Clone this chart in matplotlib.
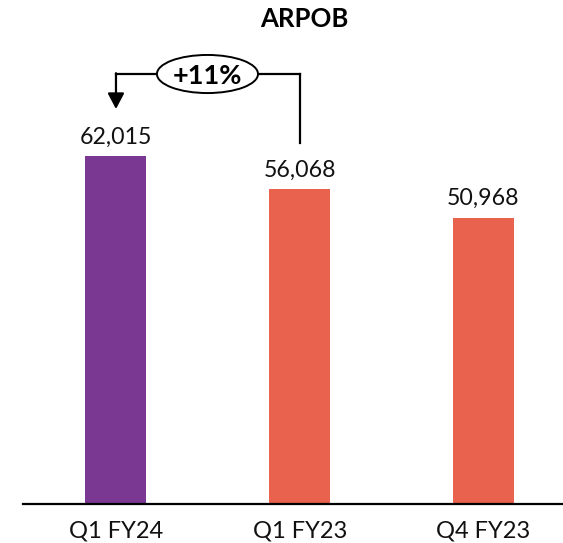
import matplotlib
matplotlib.use("Agg")
import matplotlib.pyplot as plt
from matplotlib.patches import Ellipse

# данные
categories = ["Q1 FY24", "Q1 FY23", "Q4 FY23"]
values = [62015, 56068, 50968]
value_labels = ["62,015", "56,068", "50,968"]
growth_label = "+11%"
title = "ARPOB"

purple = "#7B3892"
orange = "#E8624D"
colors = [purple, orange, orange]

plt.rcParams["font.family"] = ["Lato", "DejaVu Sans"]

fig = plt.figure(figsize=(5.63, 5.43), dpi=100)
ax = fig.add_axes([23 / 563, 39.5 / 543, 540 / 563, 503.5 / 543])

x = list(range(len(categories)))
ax.bar(x, values, width=0.332, color=colors)

ax.set_xlim(-0.506, 2.433)
ax.set_ylim(0, 503.5 * 178.5)

for xi, v, lab in zip(x, values, value_labels):
    ax.annotate(lab, (xi, v), xytext=(0, 9.1), textcoords="offset points",
                ha="center", va="baseline", fontsize=16.7, color="#111111")

ax.set_xticks(x)
ax.set_xticklabels([])
# подписи категорий по базовой линии
for xi, cat in zip(x, categories):
    ax.annotate(cat, (xi, 0), xytext=(0, -24.6), textcoords="offset points",
                ha="center", va="baseline", fontsize=17, color="#111111",
                annotation_clip=False)
ax.tick_params(axis="x", length=0)
ax.set_yticks([])
for s in ["left", "right", "top"]:
    ax.spines[s].set_visible(False)
ax.spines["bottom"].set_linewidth(1.6)

# стрелка-скобка между Q1 FY23 и Q1 FY24
top = max(values) + 14650
ax.plot([x[1], x[1]], [values[1] + 8300, top], color="black", lw=1.6)
ax.plot([x[1], 0.55 * x[1] + 0.22], [top, top], color="black", lw=1.6)
ax.plot([x[0], 0.22], [top, top], color="black", lw=1.6)
ax.annotate("", xy=(x[0], max(values) + 8400), xytext=(x[0], top + 140),
            arrowprops=dict(arrowstyle="-|>,head_length=0.95,head_width=0.5",
                            color="black", lw=1.6, shrinkA=0, shrinkB=0))
ax.add_patch(Ellipse((0.498, top), 0.55, 6800, facecolor="white",
                     edgecolor="black", lw=1.4, zorder=3))
ax.text(0.498, top, growth_label, ha="center", va="center_baseline",
        fontsize=19.5, fontweight="bold", zorder=4)

fig.text(304 / 563, (543 - 27) / 543, title, ha="center", va="baseline",
         fontsize=18.5, fontweight="bold")

fig.savefig("out.png", dpi=100)
